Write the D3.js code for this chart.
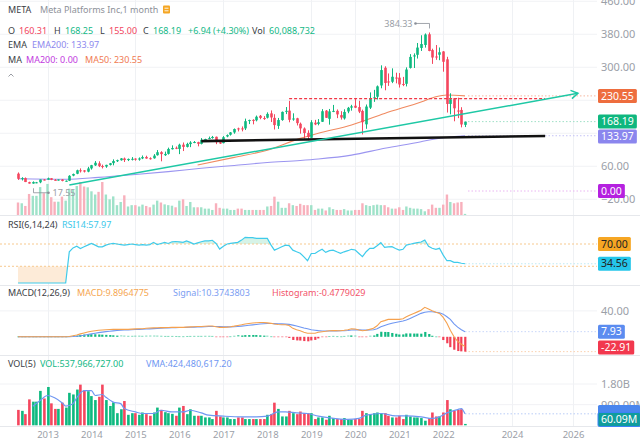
<!DOCTYPE html>
<html><head><meta charset="utf-8">
<script src="https://cdn.jsdelivr.net/npm/d3@7"></script>
<style>html,body{margin:0;padding:0;background:#fff}svg{display:block;font-family:"Noto Sans",sans-serif}</style>
</head><body><svg id="c" width="640" height="441"></svg>
<script>
// ---------------- DATA ----------------
const startMonth = "2012-05";
const opens = [42.05,28.89,31.25,21.50,18.08,20.82,21.08,27.80,
27.44,31.01,27.05,25.63,27.85,24.27,24.97,37.30,41.84,50.25,49.97,46.90,
54.83,62.12,67.07,60.46,59.28,63.23,67.58,72.22,74.58,78.78,74.99,77.26,
78.58,76.11,79.00,82.50,79.50,79.30,86.77,94.15,86.85,90.05,101.23,104.83,
101.95,112.27,106.91,113.75,117.83,118.50,114.20,123.85,126.38,128.38,131.41,118.38,
116.03,132.25,136.47,141.93,151.75,151.75,151.72,170.20,172.40,171.39,182.36,176.85,
177.68,188.22,177.30,157.81,172.00,193.07,194.80,173.93,176.30,163.03,151.52,141.00,
128.99,165.60,162.60,167.83,194.78,175.00,193.80,194.35,184.00,175.96,192.85,202.13,
206.75,203.44,194.03,161.62,202.00,224.59,228.50,255.82,298.73,265.53,264.79,274.98,
274.78,259.52,259.89,298.42,326.17,330.15,346.82,353.99,379.95,341.61,326.04,330.30,
338.30,319.17,211.08,224.86,195.00,196.51,160.31];
const highs = [45.00,33.45,32.88,22.45,23.37,22.00,28.00,28.88,
32.51,31.02,28.98,28.05,28.84,25.53,38.31,42.26,51.60,54.83,50.66,58.58,
63.37,72.59,72.03,63.91,63.69,68.00,76.74,76.00,79.70,81.16,78.72,82.17,
79.25,81.38,86.07,85.59,81.63,89.40,99.24,96.49,95.54,105.12,110.65,107.92,
114.64,117.59,116.99,120.79,121.08,119.44,128.33,126.73,131.98,133.50,131.94,122.50,
133.14,137.18,142.95,151.60,153.60,156.50,175.49,173.05,174.00,182.90,184.25,181.48,
190.66,195.32,186.10,177.10,192.72,203.55,218.62,188.30,177.50,165.88,154.13,147.19,
171.68,172.48,174.30,198.48,196.18,198.88,208.66,197.66,193.50,198.09,203.80,208.93,
223.21,218.77,197.24,209.69,239.00,245.19,255.85,304.67,302.40,285.00,297.33,286.79,
285.90,276.60,299.70,331.81,333.63,358.79,377.55,382.00,384.33,345.00,353.83,347.91,
339.15,325.34,236.86,224.86,226.18,203.12,168.25];
const lows = [26.83,25.52,21.61,18.03,17.55,18.80,18.87,25.52,
27.42,26.34,25.52,25.10,23.42,22.67,24.05,35.72,40.75,44.82,44.90,45.38,
51.85,60.82,57.98,54.66,56.26,61.80,62.21,70.32,73.55,70.32,72.51,74.03,
73.54,73.45,77.26,78.31,76.08,78.30,85.78,72.00,85.07,88.36,100.47,101.46,
89.37,96.82,105.54,106.31,115.88,108.23,112.97,122.07,125.60,126.75,113.55,114.00,
115.51,130.30,134.34,138.81,144.42,144.56,147.80,162.20,161.56,168.79,174.00,172.56,
175.80,167.18,149.02,150.51,170.23,186.43,166.56,170.27,158.87,139.03,126.85,123.02,
128.56,159.59,159.28,167.28,177.16,160.84,191.19,176.66,173.12,173.09,188.50,194.84,
201.06,188.86,137.10,150.83,198.76,216.08,221.84,249.00,244.13,254.82,261.50,261.02,
250.79,254.18,253.50,296.92,298.20,321.11,339.51,347.59,338.72,308.11,317.93,317.10,
289.18,190.22,185.82,169.00,176.63,154.25,155.00];
const closes = [29.60,31.10,21.71,18.06,21.66,21.11,28.00,26.62,
30.98,27.25,25.58,27.77,24.35,24.88,36.80,41.29,50.23,50.21,47.01,54.65,
62.57,68.46,60.24,59.78,63.30,67.29,72.65,74.82,79.04,74.99,77.70,78.02,
75.91,78.97,82.22,78.77,79.19,85.77,94.01,89.43,89.90,101.97,104.24,104.66,
112.21,106.92,114.10,117.58,118.81,114.28,123.94,126.12,128.27,130.99,118.42,115.05,
130.32,135.54,142.05,150.25,151.46,150.98,169.25,171.97,170.87,180.06,177.18,176.46,
186.89,178.32,159.79,172.00,191.78,194.32,172.58,175.73,164.46,151.79,140.61,131.09,
166.69,161.45,166.69,193.40,177.47,193.00,194.23,185.67,178.08,191.65,201.64,205.25,
201.91,192.47,166.80,204.71,225.09,227.07,253.67,293.20,261.90,263.11,276.97,273.16,
258.33,257.62,294.53,325.08,328.73,347.71,356.30,379.38,339.39,323.57,324.46,336.35,
313.26,211.03,222.36,200.47,193.64,161.25,168.19];
// monthly volume, millions of shares
const volumes = [672,630,486,1130,1030,1030,1500,1170,
1670,957,715,715,986,772,1415,1344,1558,1773,1530,1487,
1273,1100,1244,1773,1100,843,1000,529,700,1058,458,529,
529,458,558,486,415,558,772,672,572,529,500,415,
772,843,486,700,415,415,415,343,343,272,630,386,
343,343,272,272,343,343,272,272,272,272,272,272,
458,486,986,715,386,386,630,529,486,600,529,529,
529,272,343,343,243,415,315,272,272,315,243,243,
272,272,630,529,486,529,558,529,529,415,343,343,
415,272,458,386,343,343,315,200,315,558,386,386,
558,1100,700,630,672,700,60];
const rsi14 = [0,0,0,0,0,0,0,0,0,0,0,0,0,0,
56,63,66,62,65,68,71,68,65,65,68,70,71,70,69,68,69,70,69,68,69,68,
69,73,69,71,73,71,74,74.5,74,73,75.6,73,70,72,74,75.6,75.6,76.7,71,61,
66,70,71,72,73,77,82,81.5,81.5,80,80,80,80,68,59,62,65,68,67,59,56,53.5,47,40,
53,53,57,60.5,55,58,59,56,53.3,56,58,60.5,59.2,53,47.2,56.2,62.3,62.3,67,72.4,
64,65,65.2,62,59.2,60.5,68,69.5,71,72.4,73.6,77.2,66,62.3,60.5,62.3,50,40,40,37,37,35.5,34.56];
const macdLine = [0,0,0,0,0,0,0,0,0,0,0,0,0,0,
0.5,1.5,2.7,4.5,6,7.5,8.5,9.4,10,10.5,11,11.3,11.5,11.5,11.5,11.5,11.5,11.8,12.2,12.5,12.5,13.1,
13.5,13.8,14,14.1,14.1,14.3,14.5,14.6,14.6,14.6,15,15.3,15.6,15.8,16,16.3,16.6,16.6,15.5,14.6,
14.6,15,15.6,16.5,17.5,18.5,19.7,20.5,21.2,21.8,22,22,21.5,20.8,19.7,19,18.5,18.5,17.5,13.1,11,9.4,7,5.4,
5.4,5.4,7,7.9,8.5,9.4,9.8,9.5,9.4,10,11,12.5,12,10.5,9.4,10,11.5,13.1,17,23.3,
25,26.9,26.9,26.9,26.9,28,31,33.6,36,38.5,41,45.5,43,40.3,38,36.2,30,20.8,10,0,-7,-11.5,-14.98];
const signalLine = [0,0,0,0,0,0,0,0,0,0,0,0,0,0,
0.1,0.4,0.9,1.6,2.5,3.5,4.5,5.5,6.4,7.2,8,8.6,9.2,9.7,10.1,10.4,10.7,11,11.2,11.5,11.7,12,
12.3,12.6,12.9,13.2,13.5,13.7,13.9,14.1,14.3,14.4,14.5,14.7,14.9,15.1,15.3,15.5,15.8,16,16,15.8,
15.5,15.4,15.4,15.6,16,16.5,17.1,17.8,18.4,19.1,19.7,20.2,20.5,20.6,20.4,20.2,19.9,19.6,19.2,18,16.6,15.2,13.6,12.4,
11,10.2,9.5,9,8.9,9,9.1,9.2,9.3,9.4,9.8,10.4,10.8,10.7,10.4,10.3,10.5,11,12.5,15.5,
17.5,19.5,21,22.2,23.3,24.3,25.8,28.4,31,33.5,36.2,38,38.7,38.7,38,37.2,35,31,27,20,15,11,7.93];
const histogram = [0,0,0,0,0,0,0,0,0,0,0,0,0,0,
0.4,1.1,1.8,2.9,3.5,4,4,3.9,3.6,3.3,3,2.7,2.3,1.8,1.4,1.1,0.8,0.8,1,1,0.8,1.1,
1.2,1.2,1.1,0.9,0.6,0.6,0.6,0.5,0.3,0.2,0.5,0.6,0.7,0.7,0.7,0.8,0.8,0.6,-0.5,-1.2,
-0.9,-0.4,0.2,0.9,1.5,2,2.6,2.7,2.8,2.7,2.3,1.8,1,0.2,-0.7,-1.2,-1.4,-1.1,-1.7,-4.9,-5.6,-5.8,-6.6,-7,
-5.6,-4.8,-2.5,-1.1,-0.4,0.4,0.7,0.3,0.1,0.6,1.2,2.1,1.2,-0.2,-1,-0.3,1,2.1,4.5,7.8,
7.5,7.4,5.9,4.7,3.6,3.7,5.2,5.2,5,5,4.8,7.5,4.3,1.6,0,-1,-5,-10,-16,-20,-22,-22.5,-22.91];
const ema200Months = ["2012-05","2013-06","2014-03","2015-01","2015-10","2016-07","2017-04","2018-01","2018-10","2019-03","2019-12","2020-09","2021-07","2021-10","2022-07"];
const ema200Values = [29.6,28.5,33,40,47,55,62,69,74,77.6,87,103.5,119.5,125,133.97];
const ma50Months = ["2016-06","2017-04","2018-01","2018-10","2019-03","2019-12","2020-09","2021-07","2021-11","2022-02","2022-07"];
const ma50Values = [63,81.6,99,127.6,140,160,188,216,228.6,232.7,230.55];
const vmaMonths = ["2012-09","2012-11","2013-01","2013-03","2013-05","2013-06","2013-08","2013-09","2013-11","2014-01","2014-02","2014-04","2014-05","2014-07","2014-09","2014-10","2015-01","2015-03","2015-06","2015-08","2015-11","2016-02","2016-04","2016-07","2016-09","2017-01","2017-06","2017-10","2018-01","2018-04","2018-06","2018-09","2018-12","2019-03","2019-06","2019-11","2020-02","2020-04","2020-08","2020-12","2021-03","2021-07","2021-10","2021-12","2022-02","2022-05","2022-06","2022-07"];
const vmaValues = [827,1084,1299,1200,986,840,943,1200,1513,1513,1299,1342,1226,1011,943,729,583,514,514,656,583,583,656,540,441,399,369,369,399,583,583,540,514,399,326,257,300,441,514,411,411,369,300,369,540,686,729,500];
const yearTicks = [2013,2014,2015,2016,2017,2018,2019,2020,2021,2022,2024,2026];
const gridYears = [2013,2015,2017,2019,2020,2021,2022,2024,2026];
const priceGrid = [460,380,300,220,140,60,-20];
const priceLabels = [460,380,300,60,-20];
const macdTicks = [40];
const volTicks = [1800,900];
const rsiLevels = [70,30];
const tealTrend = [["2013-07",14.5],["2026-03",236.8]];
const redLevel = [["2018-07",224],["2025-02",224]];
const blackSupport = [["2016-07",121],["2025-02",133.3]];
const lastValues = {close:168.19, ema200:133.97, ma50:230.55, ma200:0.00, rsi:34.56, signal:7.93, hist:-22.91, vma:500, vol:60.09};

// ---------------- SETUP ----------------
const svg = d3.select("#c");
const PR = 597;
const UP = "#0DB97F", DN = "#F4465E";
const parseM = s => { const [y,m] = s.split("-").map(Number); return new Date(y, m-1, 1); };
const [sy, sm] = startMonth.split("-").map(Number);
const dates = closes.map((_, i) => new Date(sy, sm-1+i, 1));
const x = d3.scaleTime()
  .domain([new Date(2013,0,1), new Date(2022,6,1), new Date(2024,0,1), new Date(2026,0,1)])
  .range([47.5, 465, 512, 573]);
const yP = d3.scaleLinear().domain([0,460]).range([191,1.25]);
const yOV = d3.scaleLinear().domain([0,1773]).range([215,182]);
const yR = d3.scaleLinear().domain([0,100]).range([283,227.3]);
const yM = d3.scaleLinear().domain([0,40]).range([336.8,310.9]);
const yV = d3.scaleLinear().domain([0,1800]).range([425.3,384]);
const isUp = i => closes[i] >= opens[i];

const defs = svg.append("defs");
function clip(id, x0, y0, w, h){ defs.append("clipPath").attr("id", id).append("rect").attr("x", x0).attr("y", y0).attr("width", w).attr("height", h); }
clip("cMain", 0, 0, PR, 215);
clip("cRsiHi", 0, 220, PR, yR(70)-220);
clip("cRsiLo", 0, yR(30), PR, 285-yR(30));
clip("cMacd", 0, 286, PR, 70);

// grid
const grid = svg.append("g");
grid.selectAll("line.v").data(gridYears).join("line")
  .attr("x1", d => Math.round(x(new Date(d,0,1)))+0.5).attr("x2", d => Math.round(x(new Date(d,0,1)))+0.5)
  .attr("y1", 0).attr("y2", 426).attr("stroke", "#eff1f4");
grid.selectAll("line.h").data(priceGrid).join("line")
  .attr("x1", 0).attr("x2", PR).attr("y1", d => yP(d)).attr("y2", d => yP(d)).attr("stroke", "#f1f2f5");
grid.selectAll("line.m").data(macdTicks).join("line")
  .attr("x1", 0).attr("x2", PR).attr("y1", d => yM(d)).attr("y2", d => yM(d)).attr("stroke", "#f1f2f5");
grid.selectAll("line.vv").data(volTicks).join("line")
  .attr("x1", 0).attr("x2", PR).attr("y1", d => yV(d)).attr("y2", d => yV(d)).attr("stroke", "#f1f2f5");
svg.append("g").selectAll("line").data([215.5, 285.5, 355.5, 426.5]).join("line")
  .attr("x1", 0).attr("x2", 640).attr("y1", d => d).attr("y2", d => d).attr("stroke", "#e6e8ec");

// ---------------- MAIN PANE ----------------
const main = svg.append("g").attr("clip-path", "url(#cMain)");
main.append("g").selectAll("rect").data(volumes).join("rect")
  .attr("x", (d,i) => x(dates[i]) - 1.2).attr("width", 2.4)
  .attr("y", d => yOV(d)).attr("height", d => yOV(0) - yOV(d))
  .attr("fill", (d,i) => isUp(i) ? "#9fe2c9" : "#f8b0bc");
const lineP = d3.line().x(d => x(d[0])).y(d => yP(d[1])).curve(d3.curveMonotoneX);
main.append("path").attr("d", lineP(ema200Months.map((m,i) => [parseM(m), ema200Values[i]])))
  .attr("fill", "none").attr("stroke", "#9b95f0").attr("stroke-width", 1.1);
main.append("path").attr("d", lineP(ma50Months.map((m,i) => [parseM(m), ma50Values[i]])))
  .attr("fill", "none").attr("stroke", "#f08a60").attr("stroke-width", 1.1);
[[lastValues.ma50, "#f6b7a0"], [lastValues.close, "#9fe0c6"], [lastValues.ema200, "#c5c2f6"], [lastValues.ma200, "#eab5f2"]].forEach(([v,c]) => {
  main.append("line").attr("x1", x(dates[dates.length-1])+3).attr("x2", PR).attr("y1", yP(v)).attr("y2", yP(v))
    .attr("stroke", c).attr("stroke-dasharray", "1.5,2");
});
const cg = main.append("g");
cg.selectAll("line").data(closes).join("line")
  .attr("x1", (d,i) => Math.round(x(dates[i]))+0.5).attr("x2", (d,i) => Math.round(x(dates[i]))+0.5)
  .attr("y1", (d,i) => yP(highs[i])).attr("y2", (d,i) => yP(lows[i]))
  .attr("stroke", (d,i) => isUp(i) ? UP : DN).attr("stroke-width", 1);
cg.selectAll("rect").data(closes).join("rect")
  .attr("x", (d,i) => Math.round(x(dates[i])) - 0.8).attr("width", 2.6)
  .attr("y", (d,i) => Math.min(yP(opens[i]), yP(d)))
  .attr("height", (d,i) => Math.max(1, Math.abs(yP(opens[i]) - yP(d))))
  .attr("fill", (d,i) => isUp(i) ? UP : DN);
const seg = a => a.map(([m,v]) => [x(parseM(m)), yP(v)]);
const rl = seg(redLevel);
main.append("line").attr("x1", rl[0][0]).attr("y1", rl[0][1]).attr("x2", rl[1][0]).attr("y2", rl[1][1])
  .attr("stroke", "#f23645").attr("stroke-width", 1.3).attr("stroke-dasharray", "3,2");
const bl = seg(blackSupport);
main.append("line").attr("x1", bl[0][0]).attr("y1", bl[0][1]).attr("x2", bl[1][0]).attr("y2", bl[1][1])
  .attr("stroke", "#111").attr("stroke-width", 2.6);
const tl = seg(tealTrend);
main.append("line").attr("x1", tl[0][0]).attr("y1", tl[0][1]).attr("x2", tl[1][0]).attr("y2", tl[1][1])
  .attr("stroke", "#1ec8a5").attr("stroke-width", 1.5);
{
  const ang = Math.atan2(tl[1][1]-tl[0][1], tl[1][0]-tl[0][0]);
  const L = 8, s = 0.55;
  const p1 = [tl[1][0] - L*Math.cos(ang - s), tl[1][1] - L*Math.sin(ang - s)];
  const p2 = [tl[1][0] - L*Math.cos(ang + s), tl[1][1] - L*Math.sin(ang + s)];
  main.append("path").attr("d", `M${p1}L${tl[1]}L${p2}`).attr("fill", "none").attr("stroke", "#1ec8a5").attr("stroke-width", 1.5);
}
{
  const iH = highs.indexOf(d3.max(highs)), iL = lows.indexOf(d3.min(lows));
  const xh = Math.round(x(dates[iH]))+0.5, yh = yP(highs[iH]);
  main.append("path").attr("d", `M${xh},${yh-4}V${yh-9}H${xh-14}`).attr("fill","none").attr("stroke","#8a8f98").attr("stroke-width",0.8);
  main.append("circle").attr("cx", xh-14).attr("cy", yh-9).attr("r", 1.3).attr("fill","#8a8f98");
  main.append("text").attr("x", xh-17).attr("y", yh-9).attr("dy","0.35em").attr("text-anchor","end")
    .attr("font-size", 9).attr("fill","#9a9ea6").text(d3.max(highs).toFixed(2));
  const xl = Math.round(x(dates[iL]))+0.5, yl = yP(lows[iL]);
  main.append("path").attr("d", `M${xl},${yl+4.5}V${yl+9}H${xl+15}`).attr("fill","none").attr("stroke","#8a8f98").attr("stroke-width",0.8);
  main.append("circle").attr("cx", xl+15).attr("cy", yl+9).attr("r", 1.3).attr("fill","#8a8f98");
  main.append("text").attr("x", xl+19).attr("y", yl+9).attr("dy","0.35em")
    .attr("font-size", 9).attr("fill","#9a9ea6").text(d3.min(lows).toFixed(2));
}

// ---------------- RSI PANE ----------------
const rsiPts = rsi14.map((v,i) => [x(dates[i]), yR(v)]);
svg.append("path").attr("clip-path","url(#cRsiHi)")
  .attr("d", d3.area().x(d => d[0]).y0(yR(70)).y1(d => d[1])(rsiPts)).attr("fill", "#d6f3e7");
svg.append("path").attr("clip-path","url(#cRsiLo)")
  .attr("d", d3.area().x(d => d[0]).y0(yR(30)).y1(d => d[1])(rsiPts)).attr("fill", "#fdebd8");
svg.append("g").selectAll("line").data(rsiLevels).join("line")
  .attr("x1", 0).attr("x2", PR).attr("y1", d => yR(d)).attr("y2", d => yR(d))
  .attr("stroke", "#f7c98e").attr("stroke-dasharray", "2,2");
svg.append("line").attr("x1", x(dates[dates.length-1])).attr("x2", PR).attr("y1", yR(lastValues.rsi)).attr("y2", yR(lastValues.rsi))
  .attr("stroke", "#bfeaf5").attr("stroke-dasharray", "1.5,2");
svg.append("path").attr("d", d3.line()(rsiPts)).attr("fill","none").attr("stroke","#3fcbeb").attr("stroke-width",1.2);

// ---------------- MACD PANE ----------------
const mg = svg.append("g").attr("clip-path","url(#cMacd)");
mg.append("line").attr("x1", x(dates[dates.length-1])).attr("x2", PR).attr("y1", yM(lastValues.signal)).attr("y2", yM(lastValues.signal))
  .attr("stroke", "#c9d7fa").attr("stroke-dasharray", "1.5,2");
mg.append("line").attr("x1", x(dates[dates.length-1])).attr("x2", PR).attr("y1", yM(lastValues.hist)).attr("y2", yM(lastValues.hist))
  .attr("stroke", "#fbd2b0").attr("stroke-dasharray", "1.5,2");
mg.selectAll("rect").data(histogram).join("rect")
  .attr("x", (d,i) => Math.round(x(dates[i])) - 0.8).attr("width", 2.2)
  .attr("y", d => Math.min(yM(0), yM(d)) - (Math.abs(yM(d)-yM(0)) < 1 ? 0.5 : 0))
  .attr("height", d => Math.max(1, Math.abs(yM(d) - yM(0))))
  .attr("fill", d => d >= 0 ? "#10b981" : "#f23f55")
  .attr("opacity", d => Math.abs(d) < 1.5 ? 0.55 : 1);
const lineM = d3.line().x((d,i) => x(dates[i])).y(d => yM(d));
mg.append("path").attr("d", lineM(signalLine)).attr("fill","none").attr("stroke","#6f97f2").attr("stroke-width",1.1);
mg.append("path").attr("d", lineM(macdLine)).attr("fill","none").attr("stroke","#f5a14e").attr("stroke-width",1.1);

// ---------------- VOLUME PANE ----------------
svg.append("line").attr("x1", x(dates[dates.length-1])).attr("x2", PR).attr("y1", yV(lastValues.vma)).attr("y2", yV(lastValues.vma))
  .attr("stroke", "#b9cdf7").attr("stroke-dasharray", "1.5,2");
svg.append("g").selectAll("rect").data(volumes).join("rect")
  .attr("x", (d,i) => Math.round(x(dates[i])) - 0.9).attr("width", 2.6)
  .attr("y", d => yV(d)).attr("height", d => yV(0) - yV(d))
  .attr("fill", (d,i) => isUp(i) ? UP : DN);
svg.append("path").attr("d", d3.line().x(d => x(d[0])).y(d => yV(d[1])).curve(d3.curveMonotoneX)(vmaMonths.map((m,i) => [parseM(m), vmaValues[i]])))
  .attr("fill","none").attr("stroke","#6f97f2").attr("stroke-width",1.2);

// ---------------- AXES ----------------
const axisStyle = fs => g => { g.select(".domain").remove(); g.selectAll("text").attr("fill","#9ba0a8").attr("font-size", fs).attr("font-family", '"Noto Sans",sans-serif'); };
svg.append("g").attr("transform", `translate(${PR},0)`)
  .call(d3.axisRight(yP).tickValues(priceLabels).tickSize(0).tickPadding(4).tickFormat(d3.format(".2f"))).call(axisStyle(11));
svg.append("g").attr("transform", `translate(${PR},0)`)
  .call(d3.axisRight(yM).tickValues(macdTicks).tickSize(0).tickPadding(4).tickFormat(d3.format(".2f"))).call(axisStyle(11));
svg.append("g").attr("transform", `translate(${PR},0)`)
  .call(d3.axisRight(yV).tickValues(volTicks).tickSize(0).tickPadding(4).tickFormat(d => d >= 1000 ? (d/1000).toFixed(2)+"B" : d.toFixed(2)+"M")).call(axisStyle(11));
svg.append("g").attr("transform", "translate(0,427)")
  .call(d3.axisBottom(x).tickValues(yearTicks.map(y => new Date(y,0,1))).tickSize(0).tickPadding(4).tickFormat(d3.timeFormat("%Y"))).call(axisStyle(9.5));

// ---------------- BADGES ----------------
function badge(yc, text, fill, color, stroke, fixedW){
  const g = svg.append("g");
  const r = g.append("rect").attr("x", 598).attr("y", yc-7).attr("height", 14).attr("rx", 1.5).attr("fill", fill);
  if (stroke) r.attr("stroke", stroke).attr("stroke-width", 1);
  if (text) {
    const t = g.append("text").attr("x", 601).attr("y", yc).attr("dy","0.35em").attr("font-size", 10.5).attr("fill", color).text(text);
    r.attr("width", t.node().getComputedTextLength() + 6);
  } else r.attr("width", fixedW);
}
badge(yP(lastValues.ma50), lastValues.ma50.toFixed(2), "#ee6d3e", "#fff");
badge(yP(lastValues.close), lastValues.close.toFixed(2), "#0fb77f", "#fff");
badge(Math.max(yP(lastValues.ema200), yP(lastValues.close)+15), lastValues.ema200.toFixed(2), "#8b86ee", "#fff");
badge(yP(lastValues.ma200), lastValues.ma200.toFixed(2), "#b521e0", "#fff");
badge(yR(70), (70).toFixed(2), "#f6a623", "#222");
badge(yR(lastValues.rsi), lastValues.rsi.toFixed(2), "#25c6ea", "#222");
badge(yM(lastValues.signal), lastValues.signal.toFixed(2), "#5b8cf0", "#fff");
badge(Math.min(yM(lastValues.hist), 347.5), lastValues.hist.toFixed(2), "#f2384e", "#fff");
badge(412, "", "#4a86ee", "#fff", null, 42);
badge(419.5, lastValues.vol.toFixed(2)+"M", "#0f9c9c", "#fff", "#3b82f6");

// ---------------- HEADER TEXT ----------------
const T = (xx, yy, t, c, fs) => svg.append("text").attr("x", xx).attr("y", yy).attr("dy","0.35em").attr("font-size", fs || 9).attr("fill", c).text(t);
const DK = "#3a3d44", GR = "#8d9199";
T(8, 10, "META", DK); T(40, 10, "Meta Platforms Inc,1 month", GR);
svg.append("rect").attr("x", 163).attr("y", 5.5).attr("width", 7).attr("height", 8).attr("rx", 1).attr("fill", "#f5a623");
svg.append("path").attr("d", "M164.5,8.2H168.5M164.5,10.8H168.5").attr("stroke", "#fff").attr("stroke-width", 0.9);
const G = "#13b886", R = "#f2455d";
T(8, 31, "O", DK); T(19, 31, "160.31", R);
T(54, 31, "H", DK); T(65, 31, "168.25", G);
T(100, 31, "L", DK); T(109, 31, "155.00", R);
T(143, 31, "C", DK); T(153, 31, "168.19", G);
T(188, 31, "+6.94", G); T(213, 31, "(+4.30%)", G); T(252, 31, "Vol", DK); T(269, 31, "60,088,732", G);
T(8, 45, "EMA", DK); T(32, 45, "EMA200: 133.97", "#8e89ee");
T(8, 60, "MA", DK); T(26, 60, "MA200: 0.00", "#c23ae0"); T(85, 60, "MA50: 230.55", "#f07a52");
svg.append("path").attr("d", "M8.5,76.5L11,74L13.5,76.5").attr("fill","none").attr("stroke","#8d9199").attr("stroke-width",0.9);
T(8, 225, "RSI(6,14,24)", DK); T(62, 225, "RSI14:57.97", "#3cc8ea");
T(8, 293, "MACD(12,26,9)", DK); T(77, 293, "MACD:9.8964775", "#f5a650"); T(173, 293, "Signal:10.3743803", "#7c9ef2"); T(272, 293, "Histogram:-0.4779029", "#f2546a");
T(8, 364, "VOL(5)", DK); T(40, 364, "VOL:537,966,727.00", "#13b886"); T(146, 364, "VMA:424,480,617.20", "#6f97f2");
</script></body></html>
